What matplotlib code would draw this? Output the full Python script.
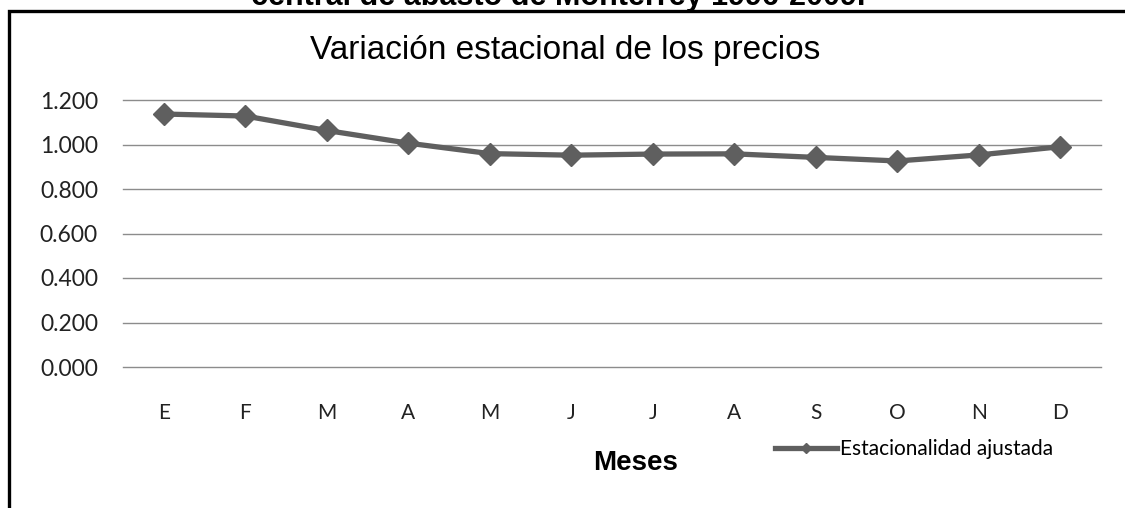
import matplotlib.pyplot as plt
import matplotlib.patches as patches

# data
meses = ["E", "F", "M", "A", "M", "J", "J", "A", "S", "O", "N", "D"]
estacionalidad = [1.137, 1.128, 1.063, 1.006, 0.959, 0.952, 0.957, 0.958, 0.942, 0.926, 0.953, 0.990]
y_ticks = [0.0, 0.2, 0.4, 0.6, 0.8, 1.0, 1.2]

W, H = 1125, 508
DPI = 100
color = "#5f5f5f"
txt_font = "Lato"

fig = plt.figure(figsize=(W / DPI, H / DPI), dpi=DPI)

# black frame clipped at right and bottom
frame = patches.Rectangle((8.5 / W, -0.1), 1.2, (H - 11) / H + 0.1, transform=fig.transFigure,
                          fill=False, edgecolor="black", linewidth=2.4)
fig.patches.append(frame)

# caption text cut at the top
fig.text(558 / W, 1 - 5 / H, "central de abasto de Monterrey 1996-2009.", ha="center", va="baseline",
         fontsize=22, fontweight="bold", family="Liberation Sans")

ax = fig.add_axes([123 / W, (H - 367) / H, (1101 - 123) / W, (367 - 100) / H])
x = range(len(meses))
ax.plot(x, estacionalidad, color=color, linewidth=3.8, marker="D", markersize=11,
        label="Estacionalidad ajustada")
ax.set_xlim(-0.5, len(meses) - 0.5)
ax.set_ylim(0, 1.2)
ax.set_yticks(y_ticks)
ax.set_yticklabels(["%.3f" % v for v in y_ticks])
ax.set_xticks(list(x))
ax.set_xticklabels(meses)
ax.grid(axis="y", color="#8c8c8c", linewidth=1)
for gl in ax.get_ygridlines():
    gl.set_clip_on(False)
ax.set_axisbelow(True)
for s in ax.spines.values():
    s.set_visible(False)
ax.tick_params(length=0, labelsize=15, colors="#222222")
ax.tick_params(axis="y", labelsize=16.5, pad=18)
ax.tick_params(axis="x", pad=26)
for lbl in ax.get_xticklabels() + ax.get_yticklabels():
    lbl.set_family(txt_font)

fig.text(565 / W, 1 - 51 / H, "Variación estacional de los precios", ha="center", va="center",
         fontsize=24, family="Liberation Sans")

fig.text(636 / W, 1 - 463 / H, "Meses", ha="center", va="center", fontsize=20,
         fontweight="bold", family="Liberation Sans")

ax.legend(loc="center left", bbox_to_anchor=(756 / W, 1 - 449 / H), bbox_transform=fig.transFigure,
          frameon=False, handlelength=3.0, handletextpad=0.15,
          prop={"family": txt_font, "size": 15}, markerscale=0.5)

fig.savefig("out.png", dpi=DPI)
